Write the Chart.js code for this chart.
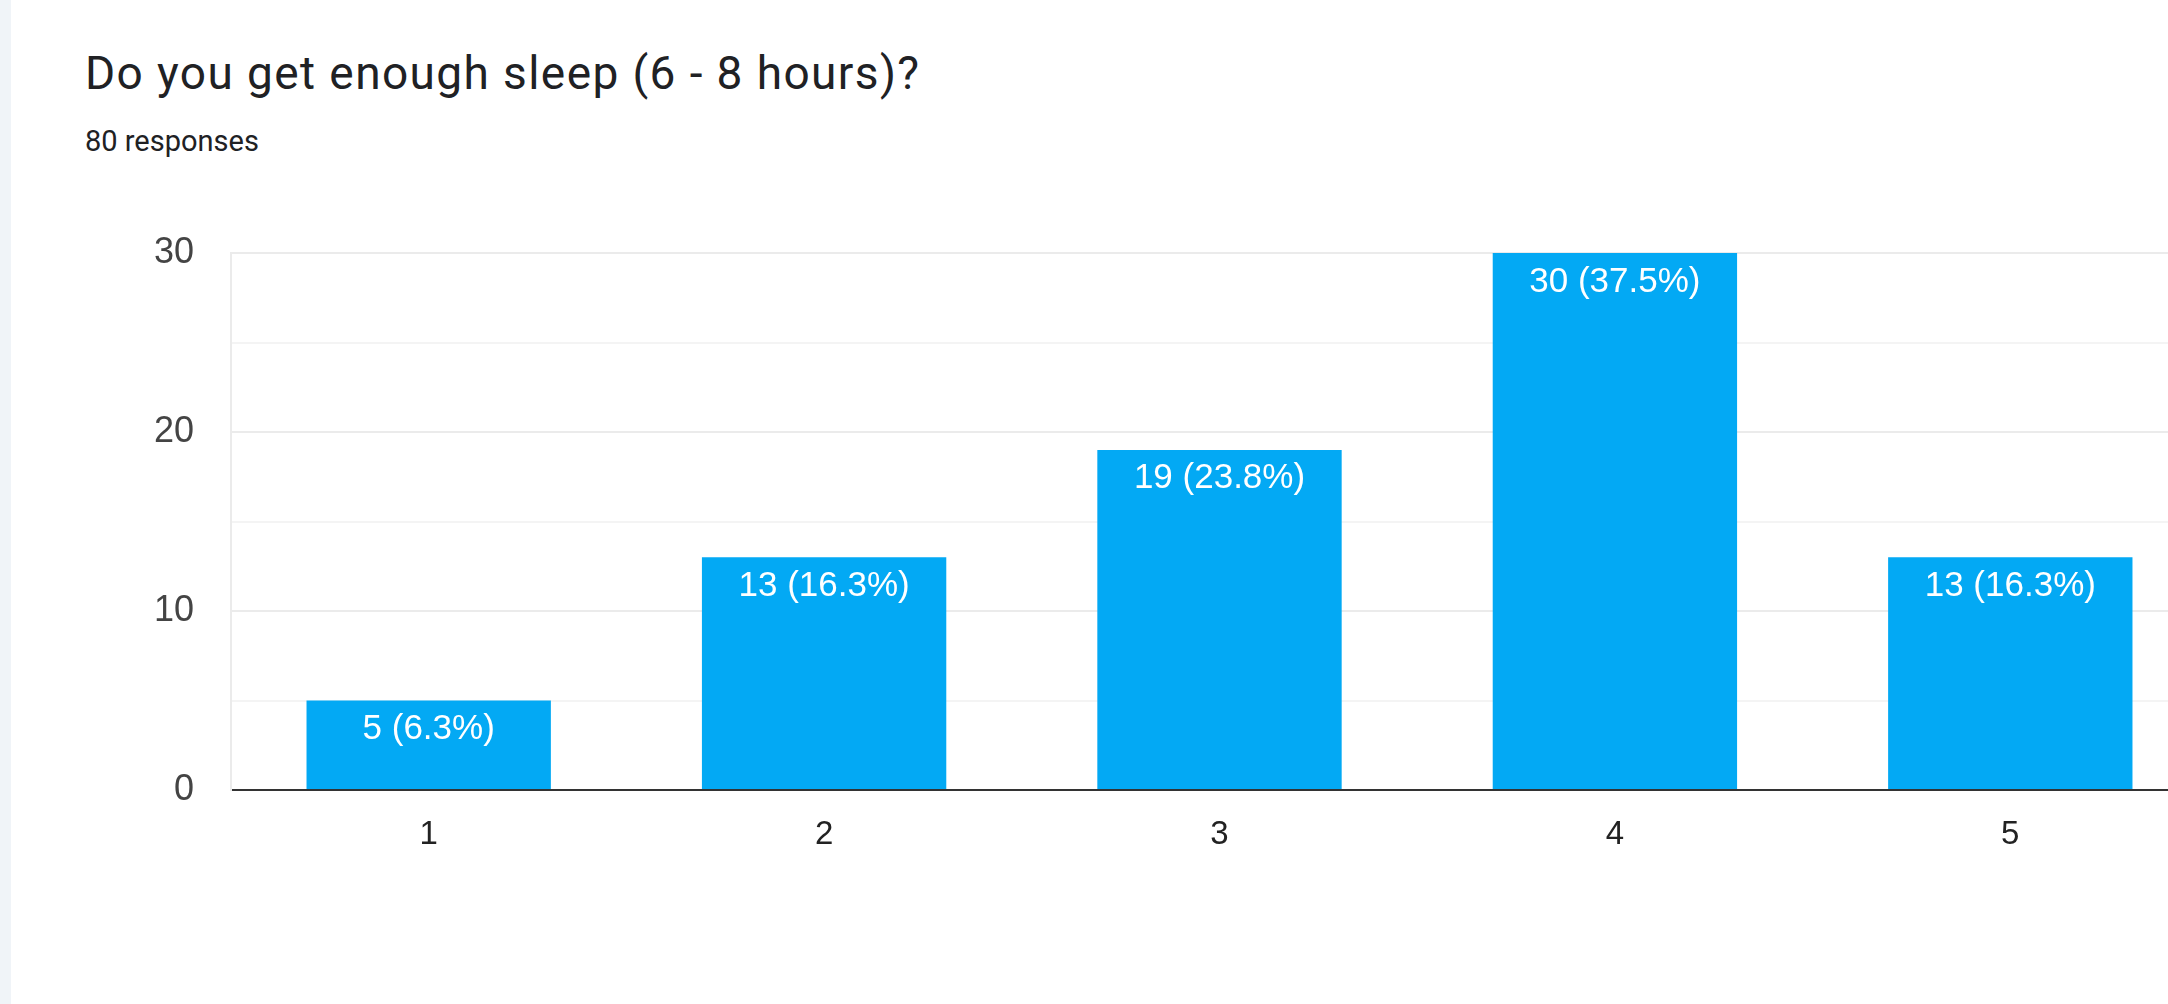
<!DOCTYPE html>
<html>
<head>
<meta charset="utf-8">
<script src="https://cdn.jsdelivr.net/npm/chart.js@4.4.1/dist/chart.umd.min.js"></script>
<style>
  html, body { margin: 0; padding: 0; background: #ffffff; overflow: hidden; }
  body { width: 2168px; height: 1004px; position: relative; }
  #stripe { position: absolute; left: 0; top: 0; width: 11px; height: 1004px; background: #f0f4f8; }
  #title { position: absolute; left: 85px; top: 50px; font-family: Roboto, "Noto Sans", sans-serif; font-size: 46px; line-height: 46px; letter-spacing: 1.4px; color: #202124; white-space: nowrap; }
  #subtitle { position: absolute; left: 85px; top: 127px; font-family: Roboto, "Noto Sans", sans-serif; font-size: 29px; line-height: 29px; color: #202124; white-space: nowrap; }
  #wrap { position: absolute; left: 0; top: 0; width: 2260px; height: 1004px; }
</style>
</head>
<body>
<div id="stripe"></div>
<div id="title"></div>
<div id="subtitle"></div>
<div id="wrap"><canvas id="chart"></canvas></div>
<script>
// Survey question and answers on a 1–5 scale
const questionText = 'Do you get enough sleep (6 - 8 hours)?';
const categories = ['1', '2', '3', '4', '5'];
const counts = [5, 13, 19, 30, 13];
const yMajorTicks = [0, 10, 20, 30];

const total = counts.reduce((a, b) => a + b, 0);
document.getElementById('title').textContent = questionText;
document.getElementById('subtitle').textContent = total + ' responses';

const barLabel = v => v + ' (' + (v * 100 / total).toFixed(1) + '%)';

// Writes "count (percent)" in white just inside the top of each bar
const insideTopLabels = {
  id: 'insideTopLabels',
  afterDatasetsDraw(chart) {
    const ctx = chart.ctx;
    const meta = chart.getDatasetMeta(0);
    ctx.save();
    ctx.font = '35px "Liberation Sans", Arial, sans-serif';
    ctx.fillStyle = '#ffffff';
    ctx.textAlign = 'center';
    ctx.textBaseline = 'alphabetic';
    meta.data.forEach((bar, i) => {
      ctx.fillText(barLabel(counts[i]), bar.x, bar.y + 38.5);
    });
    ctx.restore();
  }
};

new Chart(document.getElementById('chart'), {
  type: 'bar',
  data: {
    labels: categories,
    datasets: [{
      data: counts,
      backgroundColor: '#03a9f4',
      borderWidth: 0,
      categoryPercentage: 1,
      barPercentage: 0.618
    }]
  },
  options: {
    responsive: true,
    maintainAspectRatio: false,
    animation: false,
    events: [],
    layout: { padding: { top: 253, left: 0, right: 52, bottom: 114 } },
    plugins: {
      legend: { display: false },
      tooltip: { enabled: false }
    },
    scales: {
      x: {
        grid: { display: false, drawTicks: false },
        border: { display: true, color: '#333333', width: 2 },
        ticks: {
          color: '#222222',
          padding: 25,
          font: { family: '"Liberation Sans", Arial, sans-serif', size: 33 }
        },
        afterFit(scale) { scale.height = 100; }
      },
      y: {
        min: 0,
        max: 30,
        grid: {
          drawTicks: false,
          color: ctx => (yMajorTicks.includes(ctx.tick && ctx.tick.value) ? '#ebebeb' : '#f4f4f4'),
          lineWidth: 2
        },
        border: { display: true, color: '#ebebeb', width: 2 },
        ticks: {
          stepSize: 5,
          color: '#444444',
          padding: 37,
          font: { family: '"Liberation Sans", Arial, sans-serif', size: 36 },
          callback: v => (yMajorTicks.includes(v) ? String(v) : '')
        },
        afterFit(scale) { scale.width = 231; }
      }
    }
  },
  plugins: [insideTopLabels]
});
</script>
</body>
</html>
